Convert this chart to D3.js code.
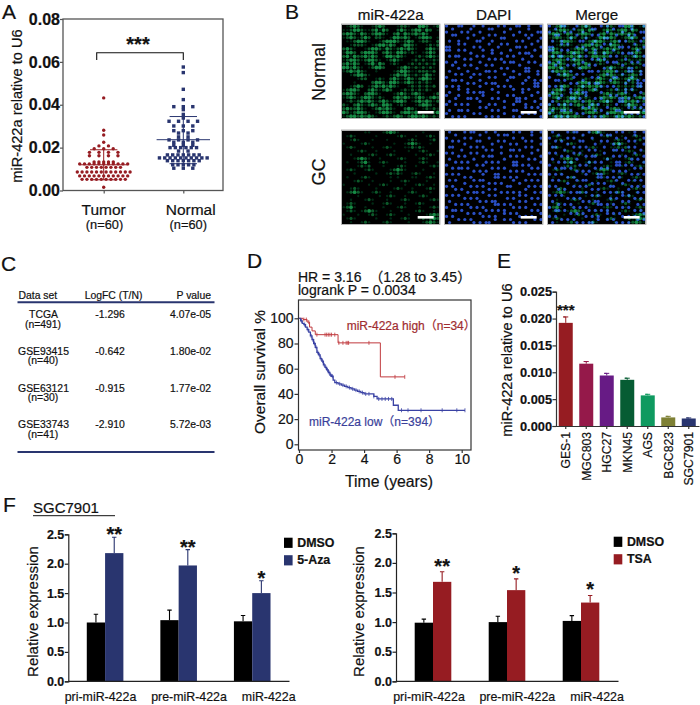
<!DOCTYPE html>
<html>
<head>
<meta charset="utf-8">
<script src="https://d3js.org/d3.v7.min.js"></script>
<style>
body { margin: 0; background: #fff; }
text { font-family: "Liberation Sans", "Noto Sans CJK SC", sans-serif; fill: #111; stroke: #111; stroke-width: 0.2; }
</style>
</head>
<body>
<div id="chart"></div>
<script>
// panel A, scatter values
var tumorValues = [0.0432, 0.0281, 0.0259, 0.0225, 0.0208, 0.0208, 0.0195, 0.0195, 0.0195,
	0.0178, 0.0178, 0.0178, 0.0178, 0.0162, 0.0162, 0.0162, 0.0162,
	0.0133, 0.0133, 0.0133, 0.0133, 0.0133,
	0.0124, 0.0124, 0.0124, 0.0124, 0.0124, 0.0124, 0.0124, 0.0124, 0.0124, 0.0124, 0.0124,
	0.0108, 0.0108, 0.0108, 0.0108, 0.0108, 0.0108, 0.0108, 0.0108,
	0.0086, 0.0086, 0.0086, 0.0086, 0.0086, 0.0086, 0.0086, 0.0086, 0.0086, 0.0086, 0.0086, 0.0086,
	0.0068, 0.0068, 0.0068, 0.0068, 0.0068, 0.0068, 0.0068, 0.0068, 0.0068, 0.0068, 0.0068,
	0.0052, 0.0052, 0.0052, 0.0052, 0.0052, 0.0052, 0.0052, 0.0052, 0.0052, 0.0052, 0.0015];
var normalValues = [0.0576, 0.0550, 0.0472, 0.0424, 0.0391, 0.0391, 0.0391, 0.0377, 0.0355, 0.0338,
	0.0323, 0.0323, 0.0323, 0.0323, 0.0301, 0.0301, 0.0301, 0.0279, 0.0279, 0.0279, 0.0268, 0.0268,
	0.0250, 0.0250, 0.0236, 0.0236, 0.0236, 0.0236, 0.0225, 0.0225, 0.0225, 0.0211, 0.0211, 0.0211,
	0.0200, 0.0200, 0.0200, 0.0200, 0.0200, 0.0200, 0.0184, 0.0184,
	0.0166, 0.0166, 0.0166, 0.0166, 0.0166, 0.0166, 0.0166,
	0.0152, 0.0152, 0.0152, 0.0152, 0.0152, 0.0152, 0.0152, 0.0152, 0.0152, 0.0152,
	0.0139, 0.0139, 0.0139, 0.0139, 0.0139, 0.0139, 0.0139,
	0.0120, 0.0120, 0.0120, 0.0120, 0.0120, 0.0104, 0.0104, 0.0104];
var scatterGroups = ["Tumor", "Normal"];
var scatterMean = [0.0120, 0.0237];
var scatterSdLow = [0.0050, 0.0125];
var scatterSdHigh = [0.0190, 0.0345];

// panel B, micrographs: coarse brightness grids
// (" " black, "." faint, "+" medium, "#" bright)
var greenNormal = [
	" .+#+.  .+#+   .++.  ##+ .+",
	"..+##+..+#.#+  +#+.+##.#+ .",
	"+##+.#+.+##+. +#.#++#+#+   ",
	".+#+.+#+ ++. .##+#+ .+##+ .",
	" ..+##+.  .+###+.+#+ .++. +",
	"  .+++. .+##+#+ .##+.  .+.+",
	"+#+.  .+##+.#+.+#+#+.  +#+.",
	".##+ +###+ +#+.##+.+. .+#+ ",
	"+#.#++#+#+ .##+#+.  .+.+#+.",
	".+##+.+##+. .+#+.  .+.+..+.",
	"+#+#+ .+#.#+ .+.  .+.+.+.+ ",
	"##+#+. .+##+   .+#+.+.+.+. ",
	".+#+#+.  .    .+##+..+++.+ ",
	"  .+##+.     .+#+#+.+.+#+. ",
	"    .++  .+. +#+.+#+.+##+. ",
	"   .    +##+.##+.+#+.+.+.  ",
	"  .+#+ .+#+#+#+.  .+.+.+.+ ",
	".+##+  +#+.+#+  .+.+.+.+.  ",
	"+##+. +##+.   .+#+.+#+.  .+",
	".+#+.+##+.+.  +#+#+.+#+.+#+",
	" .+.+#+#+.+#+.+##+ .+#+#+.+",
	"+. +#+.+#+.##+ .+.  .+##+. ",
	"+#++#+. .+#+#+.  +#+. .+.+.",
	"#+.+##+. .+##+. +##+#+. .+#",
	".+##+#+#+. .+.+#+.+##+#+.+."
];
var greenGC = [
	"      ..   .+#+.      .    ",
	" .+.     .     .+.  .  .+. ",
	"  .+.   .   .     .+.   .+ ",
	".    .+.      .  .+#+.  .  ",
	" .+.    .  .+.   ..+.+.    ",
	"    .+.  .    .   .  .+.  .",
	"  .    .+.  .+.     .  .+. ",
	"   .+#+.  .    .+.   .+.   ",
	" .  .+#.  .+.    .   .+.  .",
	"    .+.+   .   .+.  .   .+.",
	" .+.  .+.    .+#+.    .    ",
	"   .     .  .+.+.  .+.   . ",
	" .   .+.     . .   ..  .+. ",
	"   .+.  .    .  .+.    .   ",
	".      .  .+.    .  .+.  . ",
	"  .+.    .    .+.  .   .+. ",
	" .+#+.  .+.  .    .+.   .  ",
	"    .     . .+.  .   .+.   ",
	"  .   .+.   .   .+.     .+.",
	" .+.    .  .+.   .  .+.    ",
	".+#.  .    .   .+.   .  .+.",
	" .+. .+#+.   .  .   .+.  . ",
	".   .  .+.  .+.   .    .+#+",
	" .+.     .   .  .+.  .+.+#+",
	"  .  .+.   .+.    .   .+#+."
];
var blueNormal = [
	"#...##...#..#....#.#...##..#...#",
	"..#.....#.....##.....#.....#....",
	"#....#.#...#.......#....#.....##",
	"..##.....#....#.#.....#...#.#...",
	".......#....#.....##.......#...#",
	".#..#.....##...#.......#.#....#.",
	"....#.#.......#...#.#.......#...",
	"##.......#.#.....#.....##.#....#",
	"##..#.#.....#..#.....#.......#..",
	"........#......#..#.....#.##....",
	".#.##.....#.#.......#.#.....#..#",
	"......#.#.....#.#.#......#......",
	"#..#.......#.......#.##....#.#..",
	"..#...#.#....#.#........#......#",
	"....#.....#.......#.#.....##....",
	".#.....#.....##.#.....#...##..#.",
	"...#.#...#.#.......#....#.....#.",
	"#.......#.....#.#....##....#....",
	"..##.#.....#........#.....#..#.#",
	".......#.#...#.##........#...##.",
	"#.#.#......#.....#.#.#.......##.",
	"....#..#.......#......#..#.#....",
	".#.....#.#.##....#.......#....#.",
	"#...#.......#.......#.#.....#...",
	"...#...##.#....#.#.....##.#....#",
	".#.........#.......#...##....#..",
	"#..#.#.#......#.#.....#...#....#",
	"...........#.#.....#......#.#.#.",
	".#..##.#.......#.#....##.......#",
	"#........#.#.......#.....#.#.#..",
	"..#.#.#......#.#.#....#.#......#"
];
var blueGC = [
	".#....#.##...#..#.....#.#...#..#",
	"...#.......#.....#.##.......#...",
	"#.....#.#.....#.......#..#.....#",
	"..#.#.....##.....#.#......#.#...",
	"......#........#.....#.#.......#",
	".##.....#.#.#.....#.......#.#...",
	".....#.......#.#.....##.#.....#.",
	"#.#.....#.#.......#.........#...",
	"....#.#.....#.##.....#.#.#.....#",
	".#.......#.........#.......#.#..",
	"...#.#.#.....#.#.#....##.......#",
	"#.........#.#.........##.#.#....",
	"..#.##.#.......#.#.#........#.#.",
	".........#.#.#.......#.#.#......",
	"#.#.#.......#...##.........#.#.#",
	"......#.#.......##.#.#.#........",
	".#.#.....#.##.........#...#.#.#.",
	"......#.......#.#.#.....#.......",
	"#.#.....#.#.#.......##.....#.#.#",
	"...#.#........#.#.........#.....",
	".......#.##.#.....#.#.#.#....#.#",
	"#.#.#.........#.#.......#.#.....",
	"......#.#.#.........#.#.....#.#.",
	".#.........#.#.##.......#.#.....",
	"...#.#.#........##.#.#.......#.#",
	"#.......#.#.#.........#.#.#.....",
	"..##.#.......#.#.#.#........#.#.",
	".......#.#.#.......#.#.#.......#",
	"#.#.........#.#.#.......#.#.#...",
	"....#.#.#.......#..#.#.......#.#",
	".#.......#.#.##.......#.#.#....."
];

// panel C
var tableHeader = ["Data set", "LogFC (T/N)", "P value"];
var tableSets = ["TCGA", "GSE93415", "GSE63121", "GSE33743"];
var tableN = ["(n=491)", "(n=40)", "(n=30)", "(n=41)"];
var tableFC = ["-1.296", "-0.642", "-0.915", "-2.910"];
var tableP = ["4.07e-05", "1.80e-02", "1.77e-02", "5.72e-03"];

// panel D, survival steps [years, percent]
var highSteps = [[0, 100], [0.25, 99], [0.5, 97], [0.65, 93], [0.8, 90], [1, 87], [2.4, 80.5], [5, 53.5], [6.5, 53.5]];
var highCensor = [0.3, 0.45, 0.6, 1.1, 1.6, 1.7, 1.8, 1.9, 2.0, 2.2, 2.45, 2.7, 2.9, 3.0, 3.05, 4.3, 5.9, 6.5];
var lowSteps = [[0, 100], [0.1, 98], [0.2, 96], [0.3, 95], [0.4, 93], [0.5, 91], [0.6, 89], [0.7, 86], [0.8, 83], [0.9, 80],
	[1, 77], [1.1, 73], [1.2, 71], [1.3, 68], [1.4, 66], [1.5, 63], [1.6, 61], [1.7, 59], [1.8, 57], [1.9, 55],
	[2, 54], [2.1, 51], [2.2, 49], [2.4, 48], [2.6, 47], [2.8, 46], [3, 45], [3.2, 44], [3.4, 43], [3.6, 42], [3.8, 41],
	[4, 40], [4.6, 38], [4.8, 36], [5.8, 31], [6.1, 27], [10.2, 27]];
var lowCensor = [0.15, 0.35, 0.55, 0.75, 0.85, 0.95, 1.05, 1.15, 1.25, 1.35, 1.45, 1.55, 1.65, 1.75, 1.85, 1.95, 2.05, 2.3, 2.5, 2.7,
	2.9, 3.1, 3.3, 3.5, 3.7, 3.9, 4.1, 4.3, 4.6, 4.9, 5.1, 5.3, 5.5, 5.7, 6.3, 6.7, 7.5, 8.8, 9.7, 10.2];

// panel E
var cellLines = ["GES-1", "MGC803", "HGC27", "MKN45", "AGS", "BGC823", "SGC7901"];
var cellValues = [0.0192, 0.0116, 0.0094, 0.0086, 0.0057, 0.0016, 0.0014];
var cellErrTop = [0.0203, 0.0120, 0.0098, 0.0089, 0.0059, 0.0018, 0.0015];
var cellColors = ["#961c22", "#95194a", "#671b85", "#065c33", "#0f9a60", "#7e8034", "#29356f"];

// panel F
var geneLabels = ["pri-miR-422a", "pre-miR-422a", "miR-422a"];
var dmsoLeft = [1.0, 1.04, 1.02];
var dmsoLeftErr = [1.14, 1.21, 1.12];
var azaValues = [2.18, 1.97, 1.5];
var azaErr = [2.45, 2.24, 1.71];
var azaStars = ["**", "**", "*"];
var dmsoRight = [0.99, 1.0, 1.02];
var dmsoRightErr = [1.05, 1.1, 1.11];
var tsaValues = [1.68, 1.54, 1.33];
var tsaErr = [1.85, 1.73, 1.45];
var tsaStars = ["**", "*", "*"];

var red = "#961c22", navy = "#29356f";

var svg = d3.select("#chart").append("svg")
	.attr("width", 700)
	.attr("height", 705)
	.style("display", "block");

function label(txt, x, y, size, opts) {
	opts = opts || {};
	var t = svg.append("text")
		.attr("x", x)
		.attr("y", y)
		.attr("font-size", size)
		.attr("font-weight", opts.bold ? "bold" : "normal")
		.attr("text-anchor", opts.anchor || "start")
		.text(txt);
	if (opts.color) t.style("fill", opts.color).style("stroke", opts.color);
	if (opts.rotate) t.attr("transform", "rotate(-90," + x + "," + y + ")");
	return t;
}

function styleAxis(g, size, bold, color, width) {
	g.selectAll("path,line").attr("stroke", color || "#222").attr("stroke-width", width || 1.2);
	g.selectAll("text")
		.attr("font-size", size)
		.attr("font-weight", bold ? "bold" : "normal")
		.style("font-family", '"Liberation Sans", sans-serif')
		.style("fill", "#111");
}

// panel letters
var letters = [["A", 2, 19], ["B", 285, 19], ["C", 1, 271], ["D", 247, 268], ["E", 497, 268], ["F", 3, 512]];
letters.forEach(function(d) { label(d[0], d[1], d[2], 21); });

/* ---- A ---- */
var ay = d3.scaleLinear().domain([0, 0.08]).range([190.5, 19]);
var ax = d3.scalePoint().domain(scatterGroups).range([103.7, 183.3]);

svg.append("rect")
	.attr("x", 63).attr("y", 19).attr("width", 160).attr("height", 171.5)
	.attr("fill", "none").attr("stroke", "#555").attr("stroke-width", 1.3);
var aLeft = svg.append("g").attr("transform", "translate(63,0)")
	.call(d3.axisLeft(ay).tickValues([0, 0.02, 0.04, 0.06, 0.08]).tickFormat(d3.format(".2f")).tickSize(3).tickPadding(0));
aLeft.select(".domain").remove();
styleAxis(aLeft, 16, true, "#555");
var aBottom = svg.append("g").attr("transform", "translate(0,190.5)")
	.call(d3.axisBottom(ax).tickSize(3).tickFormat(""));
aBottom.select(".domain").remove();
styleAxis(aBottom, 10, false, "#555");

// rows of equal value are spread sideways like a prism dot plot
function swarm(values, step) {
	var rows = d3.group(values, function(d) { return d; });
	var out = [];
	rows.forEach(function(r, v) {
		var s = r.length < 5 && r.length > 1 ? 9.5 : step;
		r.forEach(function(d, i) {
			out.push({ value: v, off: (i - (r.length - 1) / 2) * s });
		});
	});
	return out;
}

svg.selectAll(".tumor").data(swarm(tumorValues, 4.8)).enter().append("circle")
	.attr("class", "tumor")
	.attr("cx", function(d) { return ax("Tumor") + d.off; })
	.attr("cy", function(d) { return ay(d.value); })
	.attr("r", 1.7)
	.attr("fill", red);
svg.selectAll(".normal").data(swarm(normalValues, 5.3)).enter().append("rect")
	.attr("class", "normal")
	.attr("x", function(d) { return ax("Normal") + d.off - 1.7; })
	.attr("y", function(d) { return ay(d.value) - 1.7; })
	.attr("width", 3.4)
	.attr("height", 3.4)
	.attr("fill", navy);

scatterGroups.forEach(function(g, i) {
	var c = i == 0 ? red : navy, cx = ax(g), half = i == 0 ? 24.5 : 26.7;
	var segs = [
		[cx - half, scatterMean[i], cx + half, scatterMean[i]],
		[cx - 13.7, scatterSdHigh[i], cx + 13.7, scatterSdHigh[i]],
		[cx - 13.7, scatterSdLow[i], cx + 13.7, scatterSdLow[i]],
		[cx, scatterSdLow[i], cx, scatterSdHigh[i]]
	];
	svg.selectAll(null).data(segs).enter().append("line")
		.attr("x1", function(d) { return d[0]; })
		.attr("y1", function(d) { return ay(d[1]); })
		.attr("x2", function(d) { return d[2]; })
		.attr("y2", function(d) { return ay(d[3]); })
		.attr("stroke", c)
		.attr("stroke-width", 1);
});

svg.append("path")
	.attr("d", d3.line()([[ax("Tumor") - 7, 60], [ax("Tumor") - 7, 52.7], [ax("Normal"), 52.7], [ax("Normal"), 60]]))
	.attr("fill", "none").attr("stroke", "#111").attr("stroke-width", 1.1);
label("***", 138, 51, 20, { bold: true, anchor: "middle" });
label("miR-422a relative to U6", 22, 106, 14.6, { rotate: true, anchor: "middle" });
label("Tumor", 103.7, 214.5, 15.5, { anchor: "middle" });
label("(n=60)", 104.5, 229, 12.8, { anchor: "middle" });
label("Normal", 190.7, 214.5, 15.5, { anchor: "middle" });
label("(n=60)", 188.3, 229, 12.8, { anchor: "middle" });

/* ---- B ---- */
var greenShade = { ".": "#062a14", "+": "#0c5a2b", "#": "#188a45" };
var greenSize = { ".": 1.2, "+": 1.6, "#": 1.9 };
var blueShade = { "#": "#2a4fc4" };
var defs = svg.append("defs");
defs.append("filter").attr("id", "soft").append("feGaussianBlur").attr("stdDeviation", 0.6);

function drawGrid(parent, grid, shade, size, w, h) {
	var cells = [];
	var cols = grid[0].length;
	grid.forEach(function(row, r) {
		row.split("").forEach(function(ch, c) {
			if (shade[ch] && c < cols) cells.push({ r: r, c: c, ch: ch });
		});
	});
	var x = d3.scaleBand().domain(d3.range(cols)).range([0, w]);
	var y = d3.scaleBand().domain(d3.range(grid.length)).range([0, h]);
	parent.append("g").attr("filter", "url(#soft)")
		.style("mix-blend-mode", "screen")
		.selectAll("circle").data(cells).enter().append("circle")
		.attr("cx", function(d) { return x(d.c) + x.bandwidth() / 2; })
		.attr("cy", function(d) { return y(d.r) + y.bandwidth() / 2; })
		.attr("r", function(d) { return size[d.ch]; })
		.attr("fill", function(d) { return shade[d.ch]; });
}

var colX = d3.scalePoint().domain(["miR-422a", "DAPI", "Merge"]).range([342, 548]);
var rowY = d3.scalePoint().domain(["Normal", "GC"]).range([24.5, 130.5]);
var microW = 97.5, microH = 93.5;
defs.append("clipPath").attr("id", "microClip").append("rect").attr("width", microW).attr("height", microH);

colX.domain().forEach(function(col) {
	label(col, colX(col) + microW / 2, 20, 15.2, { anchor: "middle" });
	rowY.domain().forEach(function(row) {
		var p = svg.append("g")
			.attr("transform", "translate(" + colX(col) + "," + rowY(row) + ")")
			.attr("clip-path", "url(#microClip)")
			.style("isolation", "isolate");
		p.append("rect").attr("width", microW).attr("height", microH).attr("fill", "#000");
		var g = row == "Normal" ? greenNormal : greenGC;
		var b = row == "Normal" ? blueNormal : blueGC;
		if (col != "DAPI") drawGrid(p, g, greenShade, greenSize, microW, microH);
		if (col != "miR-422a") drawGrid(p, b, blueShade, { "#": 1.6 }, microW, microH);
		p.append("rect")
			.attr("x", 75.7).attr("y", row == "Normal" ? 86.5 : 85.5)
			.attr("width", 16).attr("height", 2.6).attr("fill", "#fff");
		svg.append("rect")
			.attr("x", colX(col) - 0.5).attr("y", rowY(row) - 0.5)
			.attr("width", microW + 1).attr("height", microH + 1)
			.attr("fill", "none").attr("stroke", "#999").attr("stroke-width", 0.7);
	});
});
label("Normal", 324.7, 72, 18, { rotate: true, anchor: "middle" });
label("GC", 324.7, 172, 18, { rotate: true, anchor: "middle" });

/* ---- C ---- */
var tableY = d3.scalePoint().domain(tableSets).range([318, 428.3]);
label(tableHeader[0], 18.5, 299, 10.4);
label(tableHeader[1], 113.5, 299, 10.4, { anchor: "middle" });
label(tableHeader[2], 211, 299, 10.4, { anchor: "end" });
tableSets.forEach(function(s, i) {
	label(s, 43.5, tableY(s), 10.4, { anchor: "middle" });
	label(tableN[i], 43, tableY(s) + 9.5, 10.4, { anchor: "middle" });
	label(tableFC[i], 110, tableY(s), 10.4, { anchor: "middle" });
	label(tableP[i], 211, tableY(s), 10.4, { anchor: "end" });
});
[302.3, 452].forEach(function(y) {
	svg.append("line").attr("x1", 17.5).attr("x2", 214.5).attr("y1", y).attr("y2", y)
		.attr("stroke", navy).attr("stroke-width", 2);
});

/* ---- D ---- */
var dx = d3.scaleLinear().domain([0, 10]).range([299, 461.7]);
var dy = d3.scaleLinear().domain([0, 100]).range([444.3, 318.3]);
svg.append("rect").attr("x", 298.5).attr("y", 300).attr("width", 172.5).attr("height", 150)
	.attr("fill", "none").attr("stroke", "#333").attr("stroke-width", 1.2);
var dBottom = svg.append("g").attr("transform", "translate(0,450)")
	.call(d3.axisBottom(dx).tickValues([0, 2, 4, 6, 8, 10]).tickSize(3).tickPadding(1));
dBottom.select(".domain").remove();
styleAxis(dBottom, 14, false, "#333");
var dLeft = svg.append("g").attr("transform", "translate(298.5,0)")
	.call(d3.axisLeft(dy).tickValues([0, 20, 40, 60, 80, 100]).tickSize(4).tickPadding(1));
dLeft.select(".domain").remove();
styleAxis(dLeft, 14, false, "#333");

var stepLine = d3.line()
	.x(function(d) { return dx(d[0]); })
	.y(function(d) { return dy(d[1]); })
	.curve(d3.curveStepAfter);
function survivalAt(steps, t) {
	var i = d3.bisector(function(d) { return d[0]; }).right(steps, t) - 1;
	return steps[Math.max(i, 0)][1];
}
function drawCurve(steps, censor, color, width) {
	svg.append("path").attr("d", stepLine(steps)).attr("fill", "none").attr("stroke", color).attr("stroke-width", width);
	svg.selectAll(null).data(censor).enter().append("line")
		.attr("x1", function(d) { return dx(d); })
		.attr("x2", function(d) { return dx(d); })
		.attr("y1", function(d) { return dy(survivalAt(steps, d)) - 2; })
		.attr("y2", function(d) { return dy(survivalAt(steps, d)) + 2; })
		.attr("stroke", color)
		.attr("stroke-width", 0.8);
}
drawCurve(highSteps, highCensor, "#c0393d", 1);
drawCurve(lowSteps, lowCensor, "#3a42a4", 1.3);

label("HR = 3.16  （1.28 to 3.45）", 298, 281.5, 14).style("white-space", "pre");
label("logrank P = 0.0034", 298, 295, 14);
label("miR-422a high（n=34）", 346.7, 329.5, 12, { color: "#a02c30" });
label("miR-422a low（n=394）", 309, 425.7, 12, { color: "#3a3f9a" });
label("Overall survival %", 265, 372, 15.5, { rotate: true, anchor: "middle" });
label("Time (years)", 389, 487.3, 15.8, { anchor: "middle" });

/* ---- E ---- */
var ex = d3.scaleBand().domain(cellLines).range([555.5, 699]);
var ey = d3.scaleLinear().domain([0, 0.025]).range([426, 291.7]);
var barW = 14;
svg.selectAll(".cell").data(cellLines).enter().append("rect")
	.attr("class", "cell")
	.attr("x", function(d) { return ex(d) + ex.bandwidth() / 2 - barW / 2; })
	.attr("y", function(d, i) { return ey(cellValues[i]); })
	.attr("width", barW)
	.attr("height", function(d, i) { return ey(0) - ey(cellValues[i]); })
	.attr("fill", function(d, i) { return cellColors[i]; });
svg.selectAll(".cellErr").data(cellLines).enter().append("path")
	.attr("class", "cellErr")
	.attr("d", function(d, i) {
		var c = ex(d) + ex.bandwidth() / 2;
		return d3.line()([[c, ey(cellValues[i])], [c, ey(cellErrTop[i])], [c - 2.5, ey(cellErrTop[i])], [c + 2.5, ey(cellErrTop[i])]]);
	})
	.attr("fill", "none")
	.attr("stroke", function(d, i) { return cellColors[i]; })
	.attr("stroke-width", 1);
var eLeft = svg.append("g").attr("transform", "translate(556,0)")
	.call(d3.axisLeft(ey).tickValues([0, 0.005, 0.01, 0.015, 0.02, 0.025]).tickFormat(d3.format(".3f")).tickSize(3.5).tickPadding(0.5));
styleAxis(eLeft, 12.8, true, "#333");
var eBottom = svg.append("g").attr("transform", "translate(0,426)")
	.call(d3.axisBottom(ex).tickSize(3).tickSizeOuter(0));
styleAxis(eBottom, 12.2, false, "#333");
eBottom.selectAll("text")
	.attr("text-anchor", "end")
	.attr("transform", "rotate(-90)")
	.attr("x", -6)
	.attr("y", 0)
	.attr("dy", "0.36em");
label("***", ex("GES-1") + ex.bandwidth() / 2, 315, 15, { bold: true, anchor: "middle" });
label("miR-422a relative to U6", 512, 360, 14.6, { rotate: true, anchor: "middle" });

/* ---- F ---- */
function drawGroupBars(opts) {
	var x = d3.scaleBand().domain(geneLabels).range(opts.xRange);
	var y = d3.scaleLinear().domain([0, 2.5]).range([681.3, opts.top]);
	var half = 18.3;

	function bars(vals, errs, color, offset) {
		svg.selectAll(null).data(geneLabels).enter().append("rect")
			.attr("x", function(d) { return x(d) + x.bandwidth() / 2 + offset; })
			.attr("y", function(d, i) { return y(vals[i]); })
			.attr("width", half)
			.attr("height", function(d, i) { return y(0) - y(vals[i]); })
			.attr("fill", color);
		svg.selectAll(null).data(geneLabels).enter().append("path")
			.attr("d", function(d, i) {
				var c = x(d) + x.bandwidth() / 2 + offset + half / 2;
				return d3.line()([[c, y(vals[i])], [c, y(errs[i])], [c - 2.2, y(errs[i])], [c + 2.2, y(errs[i])]]);
			})
			.attr("fill", "none")
			.attr("stroke", color)
			.attr("stroke-width", 1.1);
	}
	bars(opts.dmso, opts.dmsoErr, "#000", -half);
	bars(opts.treated, opts.treatedErr, opts.color, 0);

	svg.selectAll(null).data(geneLabels).enter().append("text")
		.attr("x", function(d) { return x(d) + x.bandwidth() / 2 + half / 2; })
		.attr("y", function(d, i) { return y(opts.treatedErr[i]) - opts.starGap + 10; })
		.attr("font-size", 20)
		.attr("font-weight", "bold")
		.attr("text-anchor", "middle")
		.text(function(d, i) { return opts.stars[i]; });

	var left = svg.append("g").attr("transform", "translate(" + opts.xRange[0] + ",0)")
		.call(d3.axisLeft(y).tickValues([0, 0.5, 1, 1.5, 2, 2.5]).tickFormat(d3.format(".1f")).tickSize(3.5).tickPadding(0.5));
	styleAxis(left, 12.5, true, "#222");
	svg.append("line")
		.attr("x1", opts.xRange[0]).attr("x2", opts.xRange[1] + 0.5)
		.attr("y1", y(0)).attr("y2", y(0))
		.attr("stroke", "#222").attr("stroke-width", 1.2);

	geneLabels.forEach(function(g, i) {
		label(g, opts.labelX[i], 700.5, 12.4, { anchor: "middle" });
	});
	label("Relative expression", opts.titleX, 611.5, 15, { rotate: true, anchor: "middle" });

	[["DMSO", "#000"], [opts.name, opts.color]].forEach(function(d, i) {
		svg.append("rect")
			.attr("x", opts.legendX).attr("y", opts.legendY + i * 17.5)
			.attr("width", 8.6).attr("height", 10.2)
			.attr("fill", d[1]);
		label(d[0], opts.legendX + 13.2, opts.legendY + 9 + i * 17.5, 12.4, { bold: true });
	});
}

drawGroupBars({
	xRange: [68.3, 289], top: 534.3, dmso: dmsoLeft, dmsoErr: dmsoLeftErr,
	treated: azaValues, treatedErr: azaErr, color: navy, stars: azaStars, starGap: 6,
	labelX: [100.5, 189, 268.7], titleX: 38, legendX: 284, legendY: 537.7, name: "5-Aza"
});
drawGroupBars({
	xRange: [396, 618], top: 533.3, dmso: dmsoRight, dmsoErr: dmsoRightErr,
	treated: tsaValues, treatedErr: tsaErr, color: red, stars: tsaStars, starGap: 9,
	labelX: [429, 517.3, 597], titleX: 364, legendX: 613.7, legendY: 536.7, name: "TSA"
});

label("SGC7901", 33, 512.7, 15);
svg.append("line").attr("x1", 33).attr("x2", 115).attr("y1", 515.7).attr("y2", 515.7)
	.attr("stroke", "#111").attr("stroke-width", 1);
</script>
</body>
</html>
